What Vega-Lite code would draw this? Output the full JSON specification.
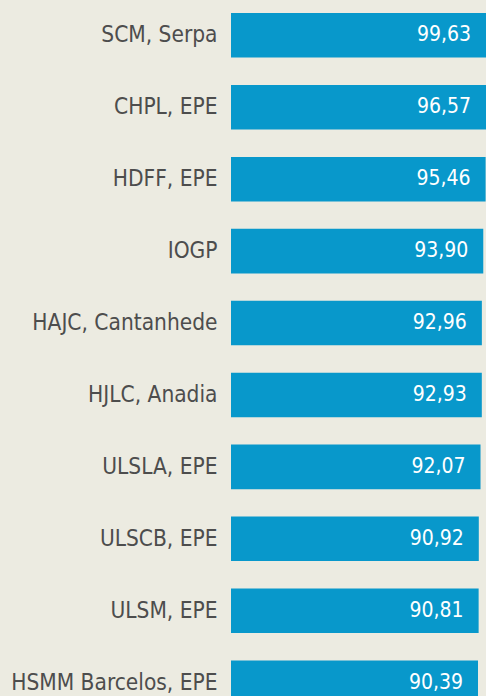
{
  "$schema": "https://vega.github.io/schema/vega-lite/v6.json",
  "autosize": "none",
  "padding": {"left": 231, "top": 0, "right": 0, "bottom": 0},
  "width": 255,
  "height": 718,
  "background": "#ecebe1",
  "config": {
    "view": {"stroke": null},
    "locale": {"number": {"decimal": ",", "thousands": ".", "grouping": [3], "currency": ["", " €"]}}
  },
  "data": {
    "values": [
      {"hospital": "SCM, Serpa", "value": 99.63},
      {"hospital": "CHPL, EPE", "value": 96.57},
      {"hospital": "HDFF, EPE", "value": 95.46},
      {"hospital": "IOGP", "value": 93.90},
      {"hospital": "HAJC, Cantanhede", "value": 92.96},
      {"hospital": "HJLC, Anadia", "value": 92.93},
      {"hospital": "ULSLA, EPE", "value": 92.07},
      {"hospital": "ULSCB, EPE", "value": 90.92},
      {"hospital": "ULSM, EPE", "value": 90.81},
      {"hospital": "HSMM Barcelos, EPE", "value": 90.39}
    ]
  },
  "encoding": {
    "y": {
      "field": "hospital",
      "type": "nominal",
      "sort": null,
      "scale": {"paddingInner": 0.38, "paddingOuter": 0.181},
      "axis": {
        "title": null,
        "ticks": false,
        "domain": false,
        "labelPadding": 14,
        "labelFont": "DejaVu Sans Condensed, sans-serif",
        "labelFontSize": 22.5,
        "labelColor": "#4d4d4d",
        "labelLimit": 0
      }
    }
  },
  "layer": [
    {
      "mark": {"type": "bar", "color": "#0898cb"},
      "encoding": {
        "x": {
          "field": "value",
          "type": "quantitative",
          "scale": {"domain": [-74.28, 95.72], "clamp": true, "nice": false, "zero": false},
          "axis": null
        },
        "x2": {"datum": -74.28}
      }
    },
    {
      "mark": {
        "type": "text",
        "align": "right",
        "baseline": "middle",
        "dx": -15,
        "color": "#ffffff",
        "font": "DejaVu Sans Condensed, sans-serif",
        "fontSize": 21
      },
      "encoding": {
        "x": {"field": "value", "type": "quantitative"},
        "text": {"field": "value", "type": "quantitative", "format": ".2f"}
      }
    }
  ]
}
